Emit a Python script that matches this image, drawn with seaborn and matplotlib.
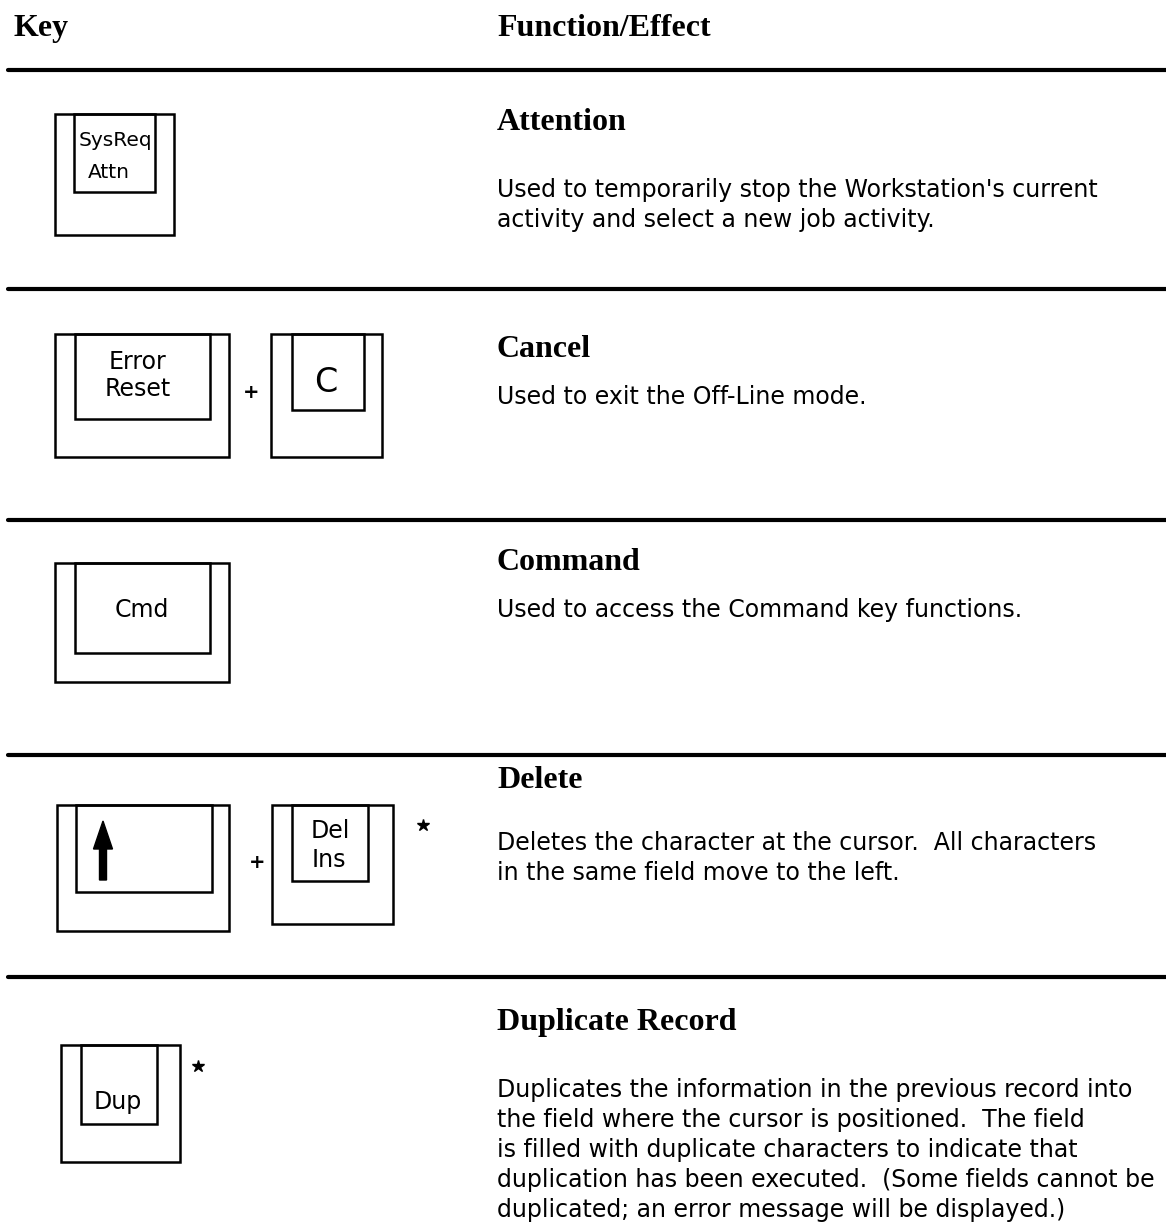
import matplotlib
matplotlib.use("Agg")
import matplotlib.pyplot as plt
import seaborn as sns
from matplotlib.patches import Rectangle

# Page content
headers = ["Key", "Function/Effect"]
titles = ["Attention", "Cancel", "Command", "Delete", "Duplicate Record"]
descriptions = [
    ["Used to temporarily stop the Workstation's current",
     "activity and select a new job activity."],
    ["Used to exit the Off-Line mode."],
    ["Used to access the Command key functions."],
    ["Deletes the character at the cursor.  All characters",
     "in the same field move to the left."],
    ["Duplicates the information in the previous record into",
     "the field where the cursor is positioned.  The field",
     "is filled with duplicate characters to indicate that",
     "duplication has been executed.  (Some fields cannot be",
     "duplicated; an error message will be displayed.)"],
]
# key labels per row, one entry per key cap
key_labels = [
    [["SysReq", "Attn"]],
    [["Error", "Reset"], ["C"]],
    [["Cmd"]],
    [["\u2191"], ["Del", "Ins"]],
    [["Dup"]],
]

# Layout (pixel coords, y downwards)
W, H = 1166, 1226
rule_y = [70, 289, 520, 755, 977]
title_y = [130, 357, 570, 788, 1030]
desc_y0 = [197, 404, 617, 850, 1097]
line_gap = 30
text_x = 497
# key caps: (x0, y0, x1, y1, inner_x0, inner_x1, inner_y1)
key_boxes = [
    [(55, 114, 174, 235, 74, 155, 192)],
    [(55, 334, 229, 457, 75, 210, 419), (271, 334, 382, 457, 292, 364, 410)],
    [(55, 563, 229, 682, 75, 210, 653)],
    [(57, 805, 229, 931, 76, 212, 892), (272, 805, 393, 924, 292, 368, 881)],
    [(61, 1045, 180, 1162, 81, 157, 1124)],
]
plus_xy = [None, (251, 393), None, (257, 862), None]
star_xy = [None, None, None, (423, 825), (198, 1066)]

sns.set_theme(style="white")
plt.rcParams["font.family"] = ["DejaVu Sans"]
plt.rcParams["text.color"] = "black"

fig = plt.figure(figsize=(W / 100, H / 100), dpi=100)
ax = fig.add_axes([0, 0, 1, 1])
ax.set_xlim(0, W)
ax.set_ylim(H, 0)
ax.axis("off")

serif = ["Liberation Serif", "DejaVu Serif"]
ax.text(13, 36, headers[0], family=serif, weight="bold", fontsize=23)
ax.text(text_x, 36, headers[1], family=serif, weight="bold", fontsize=23)

for y in rule_y:
    ax.plot([8, W], [y, y], color="black", lw=3.0, solid_capstyle="round")

for i, title in enumerate(titles):
    ax.text(text_x, title_y[i], title, family=serif, weight="bold", fontsize=23)
    for j, line in enumerate(descriptions[i]):
        ax.text(text_x, desc_y0[i] + j * line_gap, line, fontsize=17)

    for box, labels in zip(key_boxes[i], key_labels[i]):
        x0, y0, x1, y1, ix0, ix1, iy1 = box
        ax.add_patch(Rectangle((x0, y0), x1 - x0, y1 - y0, fill=False,
                               ec="black", lw=1.8))
        ax.add_patch(Rectangle((ix0, y0), ix1 - ix0, iy1 - y0, fill=False,
                               ec="black", lw=1.8))
        cx = (ix0 + ix1) / 2
        if labels == ["\u2191"]:
            ax.arrow(103, 880, 0, -59, width=7, head_width=19, head_length=28,
                     length_includes_head=True, color="black")
        elif labels == ["C"]:
            ax.text(cx - 2, 383, "C", fontsize=24, ha="center", va="center")
        elif labels[0] == "SysReq":
            ax.text(cx + 1, y0 + 26, labels[0], fontsize=14.5, ha="center", va="center")
            ax.text(cx - 6, y0 + 58, labels[1], fontsize=14.5, ha="center", va="center")
        elif labels[0] == "Error":
            ax.text(cx - 5, 362, labels[0], fontsize=17, ha="center", va="center")
            ax.text(cx - 5, 389, labels[1], fontsize=17, ha="center", va="center")
        elif labels[0] == "Del":
            ax.text(cx, 831, labels[0], fontsize=17, ha="center", va="center")
            ax.text(cx - 1, 860, labels[1], fontsize=17, ha="center", va="center")
        elif labels[0] == "Dup":
            ax.text(cx - 1, iy1 - 22, labels[0], fontsize=17, ha="center", va="center")
        else:
            ax.text(cx - 1, (y0 + iy1) / 2 + 2, labels[0], fontsize=17,
                    ha="center", va="center")

    if plus_xy[i]:
        ax.text(plus_xy[i][0], plus_xy[i][1], "+", fontsize=14, weight="bold",
                ha="center", va="center")
    if star_xy[i]:
        ax.plot(star_xy[i][0], star_xy[i][1], marker="*", color="black", ms=9)

fig.savefig("out.png", dpi=100)
